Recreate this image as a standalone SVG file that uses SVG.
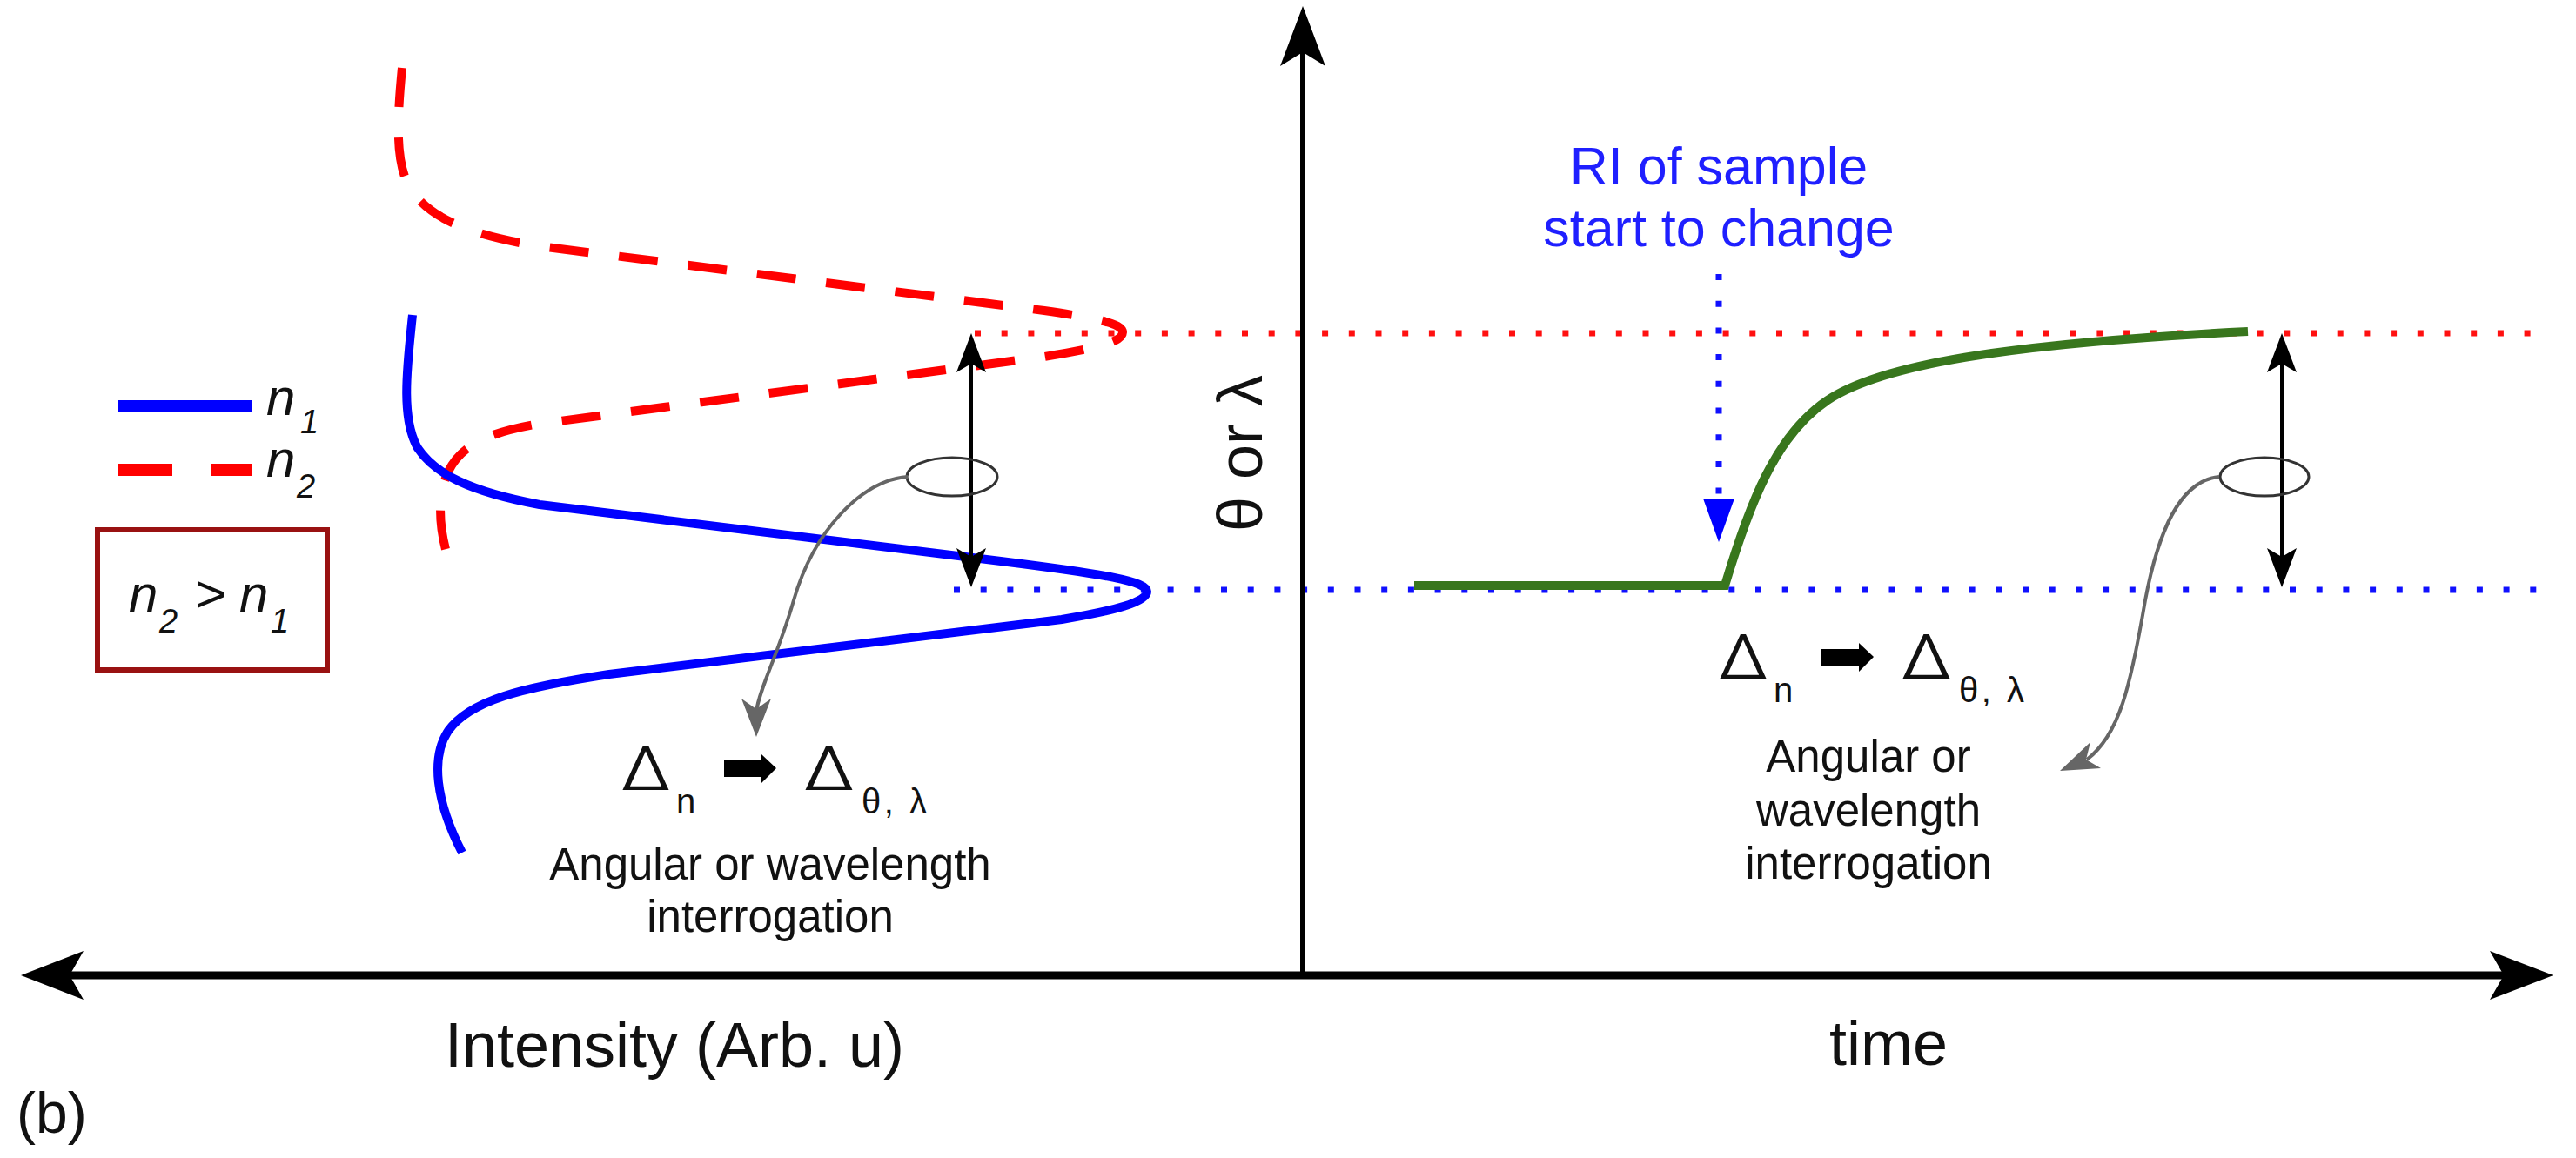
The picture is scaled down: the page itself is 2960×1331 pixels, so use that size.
<svg xmlns="http://www.w3.org/2000/svg" width="2960" height="1331" viewBox="0 0 2960 1331">
<style>
.t{font-family:"Liberation Sans",Arial,sans-serif;fill:#111}
.d{font-family:Inter,"DejaVu Sans",sans-serif;font-weight:300;fill:#111}
.it{font-family:"Liberation Sans",Arial,sans-serif;font-style:italic;fill:#111}
.dotR{stroke:#ff1010;stroke-width:7;stroke-dasharray:7 23.7;fill:none}
.dotB{stroke:#1010ff;stroke-width:7;stroke-dasharray:7 23.7;fill:none}
.gray{stroke:#666;stroke-width:4;fill:none}
.ell{stroke:#333;stroke-width:3;fill:none}
.dbl{stroke:#000;stroke-width:4;fill:none}
.head{fill:#000}
</style>
<rect width="2960" height="1331" fill="#fff"/>

<g id="guides">
<line class="dotR" x1="1120" y1="383" x2="2917" y2="383"/>
<line class="dotB" x1="1096" y1="678" x2="2917" y2="678"/>
</g>

<g id="curve-n2">
<path d="M462,78 C455,150 455,195 475,222 C500,255 550,272 620,283 L1200,357 C1262,366 1290,372 1290,382 C1290,393 1262,400 1200,410 L620,487 C560,497 530,512 515,542 C500,575 505,620 522,661" fill="none" stroke="#ff0000" stroke-width="10" stroke-dasharray="45 35"/>
</g>
<g id="curve-n1">
<path d="M474,362 C468,420 460,480 480,515 C500,545 540,565 620,580 L1150,645 C1270,660 1318,668 1318,680 C1318,692 1280,702 1220,712 L700,775 C600,790 540,805 515,840 C495,870 500,920 531,980" fill="none" stroke="#0000ff" stroke-width="10"/>
</g>
<g id="curve-time">
<path d="M1625,673 L1982,673 C2010,580 2040,500 2100,460 C2160,420 2300,395 2583,381" fill="none" stroke="#38761d" stroke-width="10"/>
</g>

<g id="legend">
<line x1="136" y1="467" x2="289" y2="467" stroke="#0000ff" stroke-width="14"/>
<line x1="136" y1="540" x2="289" y2="540" stroke="#ff0000" stroke-width="14" stroke-dasharray="62 45"/>
<text class="it" x="306" y="477" font-size="60">n</text>
<text class="it" x="345" y="498" font-size="38">1</text>
<text class="it" x="306" y="548" font-size="60">n</text>
<text class="it" x="341" y="572" font-size="38">2</text>
</g>

<g id="condition-box">
<rect x="112" y="609" width="264" height="161" fill="#fff" stroke="#991111" stroke-width="6"/>
<text class="it" x="148" y="703" font-size="60">n</text>
<text class="it" x="183" y="727" font-size="38">2</text>
<text class="it" x="224" y="703" font-size="60">&gt;</text>
<text class="it" x="275" y="703" font-size="60">n</text>
<text class="it" x="311" y="727" font-size="38">1</text>
</g>

<g id="connectors">
<line x1="1497" y1="40" x2="1497" y2="1121" stroke="#000" stroke-width="6"/>
<path class="head" d="M1497,7 L1523,76 L1497,60 L1471,76 Z"/>
<line x1="60" y1="1121" x2="2900" y2="1121" stroke="#000" stroke-width="9"/>
<path class="head" d="M24,1121 L96,1093 L80,1121 L96,1149 Z"/>
<path class="head" d="M2934,1121 L2861,1093 L2877,1121 L2861,1149 Z"/>
<line class="dbl" x1="1116" y1="410" x2="1116" y2="650"/>
<path class="head" d="M1116,383 L1133,428 L1116,418 L1099,428 Z"/>
<path class="head" d="M1116,675 L1133,630 L1116,640 L1099,630 Z"/>
<line class="dbl" x1="2622" y1="410" x2="2622" y2="650"/>
<path class="head" d="M2622,383 L2639,428 L2622,418 L2605,428 Z"/>
<path class="head" d="M2622,675 L2639,630 L2622,640 L2605,630 Z"/>
<ellipse class="ell" cx="1094" cy="548" rx="52" ry="22"/>
<path class="gray" d="M1043,548 C990,552 935,610 912,690 C895,750 873,790 869,818"/>
<path d="M869,847 L886,803 L869,815 L852,803 Z" fill="#666"/>
<ellipse class="ell" cx="2602" cy="548" rx="51" ry="22"/>
<path class="gray" d="M2550,548 C2505,552 2480,610 2465,690 C2448,790 2435,845 2398,873"/>
<path d="M2367,886 L2414,883 L2397,873 L2402,853 Z" fill="#666"/>
<line class="dotB" x1="1975" y1="315" x2="1975" y2="570"/>
<path d="M1975,623 L1993,573 L1957,573 Z" fill="#0000ff"/>
</g>

<g id="label-ri">
<text class="t" x="1975" y="212" font-size="61" text-anchor="middle" style="fill:#1f1fff">RI of sample</text>
<text class="t" x="1975" y="283" font-size="61" text-anchor="middle" style="fill:#1f1fff">start to change</text>
</g>

<g id="label-y">
<text class="t" transform="translate(1450,521) rotate(-90)" font-size="72" text-anchor="middle">θ or λ</text>
</g>

<g id="formula-left">
<text class="d" x="713" y="908" font-size="70" textLength="58" lengthAdjust="spacingAndGlyphs">Δ</text>
<text class="t" x="777" y="935" font-size="40">n</text>
<polygon points="832,874 875,874 875,867 892,883 875,900 875,893 832,893" fill="#000"/>
<text class="d" x="923" y="908" font-size="70" textLength="59" lengthAdjust="spacingAndGlyphs">Δ</text>
<text class="t" x="990" y="935" font-size="40" textLength="75" lengthAdjust="spacing">θ, λ</text>
<text class="t" x="885" y="1011" font-size="51" text-anchor="middle">Angular or wavelength</text>
<text class="t" x="885" y="1071" font-size="51" text-anchor="middle">interrogation</text>
</g>

<g id="formula-right">
<text class="d" x="1974" y="780" font-size="70" textLength="58" lengthAdjust="spacingAndGlyphs">Δ</text>
<text class="t" x="2038" y="807" font-size="40">n</text>
<polygon points="2093,746 2136,746 2136,739 2153,755 2136,772 2136,765 2093,765" fill="#000"/>
<text class="d" x="2184" y="780" font-size="70" textLength="59" lengthAdjust="spacingAndGlyphs">Δ</text>
<text class="t" x="2251" y="807" font-size="40" textLength="75" lengthAdjust="spacing">θ, λ</text>
<text class="t" x="2147" y="887" font-size="51" text-anchor="middle">Angular or</text>
<text class="t" x="2147" y="949" font-size="51" text-anchor="middle">wavelength</text>
<text class="t" x="2147" y="1010" font-size="51" text-anchor="middle">interrogation</text>
</g>

<g id="axis-labels">
<text class="t" x="775" y="1226" font-size="72" text-anchor="middle">Intensity (Arb. u)</text>
<text class="t" x="2170" y="1224" font-size="72" text-anchor="middle">time</text>
<text class="t" x="19" y="1302" font-size="66">(b)</text>
</g>
</svg>
